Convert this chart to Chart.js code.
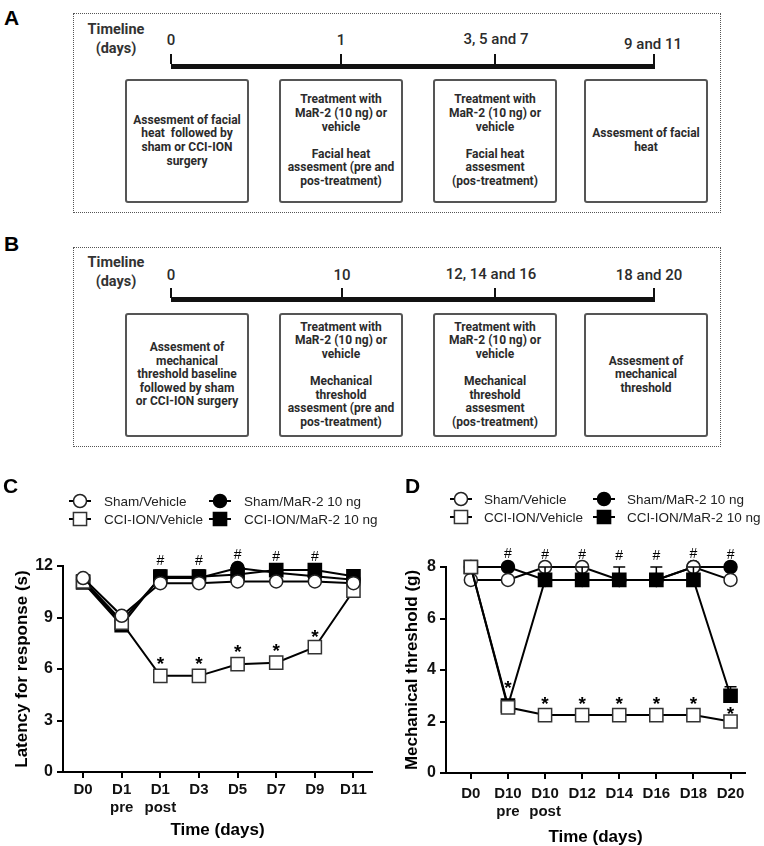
<!DOCTYPE html>
<html>
<head>
<meta charset="utf-8">
<script src="https://cdn.jsdelivr.net/npm/chart.js"></script>
<style>
  body { margin: 0; background: #fff; }
  #page { position: relative; width: 764px; height: 846px; overflow: hidden; font-family: Roboto, sans-serif; color: #2b2b2b; }
  .panel-label { position: absolute; font: bold 21px "Liberation Sans", Arial, sans-serif; color: #000; line-height: 21px; }
  .frame { position: absolute; left: 73px; width: 648px; height: 200px; box-sizing: border-box; border: 1.5px dotted #555; }
  .tl-head { position: absolute; left: 84px; width: 64px; text-align: center; font-weight: 700; font-size: 14.5px; line-height: 19px; color: #333; }
  .tl-num { position: absolute; transform: translateX(-50%); font-weight: 500; font-size: 15px; line-height: 18px; white-space: nowrap; }
  .tl-bar { position: absolute; left: 171px; width: 484px; height: 5px; background: #111; }
  .tl-tick { position: absolute; width: 1.5px; height: 10px; background: #111; }
  .step { position: absolute; width: 124px; height: 124px; box-sizing: border-box; border: 2px solid #555; border-radius: 3px;
          display: flex; align-items: center; justify-content: center; text-align: center;
          font-weight: 700; font-size: 12px; line-height: 13.6px; white-space: nowrap; }
  canvas { position: absolute; top: 470px; }
</style>
</head>
<body>
<div id="page">
  <!-- A: heat protocol -->
  <div class="panel-label" style="left:4px; top:7px;">A</div>
  <div class="frame" style="top:13px;"></div>
  <div class="tl-head" style="top:20px;">Timeline<br>(days)</div>
  <div class="tl-num" style="left:171px; top:31px;">0</div>
  <div class="tl-num" style="left:341px; top:31px;">1</div>
  <div class="tl-num" style="left:496px; top:30px;">3, 5 and 7</div>
  <div class="tl-num" style="left:653px; top:35px;">9 and 11</div>
  <div class="tl-bar" style="top:64px;"></div>
  <div class="tl-tick" style="left:170px; top:54px;"></div>
  <div class="tl-tick" style="left:340px; top:54px;"></div>
  <div class="tl-tick" style="left:494px; top:54px;"></div>
  <div class="tl-tick" style="left:653px; top:54px;"></div>
  <div class="step" style="left:125px; top:79px;">Assesment of facial<br>heat&nbsp; followed by<br>sham or CCI-ION<br>surgery</div>
  <div class="step" style="left:279px; top:79px;">Treatment with<br>MaR-2 (10 ng) or<br>vehicle<br><br>Facial heat<br>assesment (pre and<br>pos-treatment)</div>
  <div class="step" style="left:433px; top:79px;">Treatment with<br>MaR-2 (10 ng) or<br>vehicle<br><br>Facial heat<br>assesment<br>(pos-treatment)</div>
  <div class="step" style="left:584px; top:79px;">Assesment of facial<br>heat</div>

  <!-- B: mechanical protocol -->
  <div class="panel-label" style="left:4px; top:233px;">B</div>
  <div class="frame" style="top:247px;"></div>
  <div class="tl-head" style="top:253px;">Timeline<br>(days)</div>
  <div class="tl-num" style="left:171px; top:266px;">0</div>
  <div class="tl-num" style="left:342px; top:266px;">10</div>
  <div class="tl-num" style="left:491px; top:265px;">12, 14 and 16</div>
  <div class="tl-num" style="left:649px; top:266px;">18 and 20</div>
  <div class="tl-bar" style="top:297px;"></div>
  <div class="tl-tick" style="left:170px; top:288px;"></div>
  <div class="tl-tick" style="left:341px; top:288px;"></div>
  <div class="tl-tick" style="left:494px; top:288px;"></div>
  <div class="tl-tick" style="left:653px; top:288px;"></div>
  <div class="step" style="left:125px; top:313px;">Assesment of<br>mechanical<br>threshold baseline<br>followed by sham<br>or CCI-ION surgery</div>
  <div class="step" style="left:279px; top:313px;">Treatment with<br>MaR-2 (10 ng) or<br>vehicle<br><br>Mechanical<br>threshold<br>assesment (pre and<br>pos-treatment)</div>
  <div class="step" style="left:433px; top:313px;">Treatment with<br>MaR-2 (10 ng) or<br>vehicle<br><br>Mechanical<br>threshold<br>assesment<br>(pos-treatment)</div>
  <div class="step" style="left:584px; top:313px;">Assesment of<br>mechanical<br>threshold</div>

  <canvas id="chartC" width="396" height="376" style="left:0px;"></canvas>
  <canvas id="chartD" width="382" height="376" style="left:382px;"></canvas>
  <div class="panel-label" style="left:3px; top:475px;">C</div>
  <div class="panel-label" style="left:405px; top:475px;">D</div>
</div>

<script>
// Panel C: latency for response (s)
const xLabelsC = ['D0', ['D1', 'pre'], ['D1', 'post'], 'D3', 'D5', 'D7', 'D9', 'D11'];
const shamVehC = [11.3, 9.1, 11.0, 11.0, 11.1, 11.1, 11.1, 11.0];
const shamMarC = [11.2, 8.8, 11.3, 11.3, 11.88, 11.6, 11.4, 11.2];
const cciVehC = [11.1, 8.7, 5.6, 5.6, 6.28, 6.37, 7.27, 10.56];
const cciMarC = [11.05, 8.55, 11.38, 11.38, 11.5, 11.76, 11.76, 11.4];
const cciMarErrC = [0, 0, 0.38, 0.38, 0, 0, 0, 0];
const hashC = [null, null, 12.35, 12.35, 12.68, 12.6, 12.6, null];
const starC = [null, null, 6.6, 6.6, 7.3, 7.35, 8.15, null];

// Panel D: mechanical threshold (g)
const xLabelsD = ['D0', ['D10', 'pre'], ['D10', 'post'], 'D12', 'D14', 'D16', 'D18', 'D20'];
const shamVehD = [7.5, 7.5, 8.0, 8.0, 7.5, 7.5, 8.0, 7.5];
const shamMarD = [8.0, 8.0, 7.5, 7.5, 7.5, 7.5, 8.0, 8.0];
const cciVehD = [8.0, 2.55, 2.25, 2.25, 2.25, 2.25, 2.25, 2.0];
const cciMarD = [8.0, 2.62, 7.5, 7.5, 7.5, 7.5, 7.5, 3.0];
const cciMarErrD = [0, 0, 0.5, 0.5, 0.5, 0.5, 0.5, 0.35];
const hashD = [null, 8.54, 8.5, 8.5, 8.45, 8.45, 8.54, 8.5];
const starD = [null, 3.5, 2.87, 2.87, 2.87, 2.87, 2.87, 2.5];

const legendOrder = ['Sham/Vehicle', 'Sham/MaR-2 10 ng', 'CCI-ION/Vehicle', 'CCI-ION/MaR-2 10 ng'];
const FONT = '"Liberation Sans", Arial, Helvetica, sans-serif';

const markers = {
  'Sham/Vehicle': { shape: 'circle', r: 6.5, fill: '#fff', stroke: '#222' },
  'Sham/MaR-2 10 ng': { shape: 'circle', r: 6.5, fill: '#000', stroke: '#000' },
  'CCI-ION/Vehicle': { shape: 'rect', r: 9.3, fill: '#fff', stroke: '#333' },
  'CCI-ION/MaR-2 10 ng': { shape: 'rect', r: 9.3, fill: '#000', stroke: '#000' }
};

function points(values) {
  return values.map((v, i) => ({ x: i, y: v }));
}

function series(label, values, order) {
  const m = markers[label];
  return {
    label: label,
    data: points(values),
    order: order,
    borderColor: '#000',
    borderWidth: 2,
    pointStyle: m.shape,
    pointRadius: m.r,
    pointHoverRadius: m.r,
    pointBackgroundColor: m.fill,
    pointBorderColor: m.stroke,
    pointBorderWidth: 1.5,
    tension: 0,
    clip: false
  };
}

function drawMarker(ctx, label, x, y) {
  const m = markers[label];
  ctx.save();
  ctx.fillStyle = m.fill;
  ctx.strokeStyle = m.stroke;
  ctx.lineWidth = 1.5;
  ctx.beginPath();
  if (m.shape === 'rect') {
    const h = m.r * Math.SQRT1_2;
    ctx.rect(x - h, y - h, 2 * h, 2 * h);
  } else {
    ctx.arc(x, y, m.r, 0, Math.PI * 2);
  }
  ctx.fill();
  ctx.stroke();
  ctx.restore();
}

// error bars, # and * marks, and the two-column legend
const marksPlugin = {
  id: 'marks',
  afterDatasetsDraw(chart, args, opts) {
    const ctx = chart.ctx;
    const xs = chart.scales.x;
    const ys = chart.scales.y;
    ctx.save();
    ctx.strokeStyle = '#000';
    ctx.lineWidth = 1.5;
    opts.errors.forEach((bar) => {
      bar.err.forEach((e, i) => {
        if (!e) return;
        const x = xs.getPixelForValue(i);
        const y0 = ys.getPixelForValue(bar.values[i]);
        const y1 = ys.getPixelForValue(bar.values[i] + e);
        ctx.beginPath();
        ctx.moveTo(x, y0);
        ctx.lineTo(x, y1);
        ctx.moveTo(x - 6, y1);
        ctx.lineTo(x + 6, y1);
        ctx.stroke();
      });
    });
    ctx.fillStyle = '#000';
    ctx.textAlign = 'center';
    ctx.textBaseline = 'alphabetic';
    ctx.font = '14px ' + FONT;
    opts.hashes.forEach((v, i) => {
      if (v == null) return;
      ctx.fillText('#', xs.getPixelForValue(i), ys.getPixelForValue(v) + 5);
    });
    ctx.font = 'bold 19px ' + FONT;
    opts.stars.forEach((v, i) => {
      if (v == null) return;
      ctx.fillText('*', xs.getPixelForValue(i), ys.getPixelForValue(v) + 11);
    });
    ctx.restore();
  },
  afterDraw(chart, args, opts) {
    const ctx = chart.ctx;
    const lg = opts.legend;
    legendOrder.forEach((label, k) => {
      const x = lg.cols[k % 2];
      const y = lg.rows[Math.floor(k / 2)];
      ctx.save();
      ctx.strokeStyle = '#000';
      ctx.lineWidth = 2;
      ctx.beginPath();
      ctx.moveTo(x - 11, y);
      ctx.lineTo(x + 11, y);
      ctx.stroke();
      ctx.restore();
      drawMarker(ctx, label, x, y);
      ctx.save();
      ctx.fillStyle = '#222';
      ctx.font = '13.5px ' + FONT;
      ctx.textAlign = 'left';
      ctx.textBaseline = 'middle';
      ctx.fillText(label, x + lg.gap, y + 1);
      ctx.restore();
    });
  }
};

function makeChart(canvas, cfg) {
  return new Chart(canvas, {
    type: 'line',
    data: { datasets: cfg.datasets },
    plugins: [marksPlugin],
    options: {
      responsive: false,
      animation: false,
      layout: { padding: cfg.padding },
      plugins: {
        legend: { display: false },
        tooltip: { enabled: false },
        marks: cfg.marks
      },
      scales: {
        x: {
          type: 'linear',
          min: cfg.xMin,
          max: cfg.xMax,
          afterBuildTicks: (axis) => {
            axis.ticks = cfg.xLabels.map((_, i) => ({ value: i }));
          },
          afterFit: (axis) => { axis.height = cfg.xHeight; },
          ticks: {
            callback: (v) => cfg.xLabels[v],
            autoSkip: false,
            maxRotation: 0,
            padding: cfg.xPad,
            color: '#111',
            font: { family: FONT, size: 15, weight: 'bold', lineHeight: cfg.xLine }
          },
          grid: { drawOnChartArea: false, drawTicks: true, tickLength: 6, color: '#000', lineWidth: 2 },
          border: { color: '#000', width: 2 },
          title: {
            display: true,
            text: 'Time (days)',
            color: '#000',
            font: { family: FONT, size: 17, weight: 'bold', lineHeight: 1 },
            padding: { top: 0, bottom: cfg.xTitlePad }
          }
        },
        y: {
          min: 0,
          max: cfg.yMax,
          afterFit: (axis) => { axis.width = cfg.yWidth; },
          ticks: {
            stepSize: cfg.yStep,
            padding: 4,
            color: '#111',
            font: { family: FONT, size: 16, weight: 'bold' }
          },
          grid: { drawOnChartArea: false, drawTicks: true, tickLength: 6, color: '#000', lineWidth: 2 },
          border: { color: '#000', width: 2 },
          title: {
            display: true,
            text: cfg.yTitle,
            color: '#000',
            font: { family: FONT, size: 17, weight: 'bold', lineHeight: 1 },
            padding: { top: cfg.yTitlePad, bottom: 0 }
          }
        }
      }
    }
  });
}

makeChart(document.getElementById('chartC'), {
  datasets: [
    series('Sham/Vehicle', shamVehC, 0),
    series('CCI-ION/Vehicle', cciVehC, 1),
    series('Sham/MaR-2 10 ng', shamMarC, 2),
    series('CCI-ION/MaR-2 10 ng', cciMarC, 3)
  ],
  xLabels: xLabelsC,
  xMin: -0.52,
  xMax: 7.48,
  yMax: 12,
  yStep: 3,
  yTitle: 'Latency for response (s)',
  padding: { left: 0, top: 96, right: 24, bottom: 0 },
  yWidth: 63,
  xHeight: 74,
  xPad: 3,
  xLine: 1.2,
  xTitlePad: 7.5,
  yTitlePad: 13.5,
  marks: {
    errors: [{ values: cciMarC, err: cciMarErrC }],
    hashes: hashC,
    stars: starC,
    legend: { cols: [80, 220], rows: [31, 49], gap: 24 }
  }
});

makeChart(document.getElementById('chartD'), {
  datasets: [
    series('CCI-ION/Vehicle', cciVehD, 0),
    series('CCI-ION/MaR-2 10 ng', cciMarD, 1),
    series('Sham/Vehicle', shamVehD, 2),
    series('Sham/MaR-2 10 ng', shamMarD, 3)
  ],
  xLabels: xLabelsD,
  xMin: -0.67,
  xMax: 7.39,
  yMax: 8,
  yStep: 2,
  yTitle: 'Mechanical threshold (g)',
  padding: { left: 0, top: 97, right: 19, bottom: 0 },
  yWidth: 64,
  xHeight: 73,
  xPad: 5,
  xLine: 1.25,
  xTitlePad: 0.5,
  yTitlePad: 21.5,
  marks: {
    errors: [{ values: cciMarD, err: cciMarErrD }],
    hashes: hashD,
    stars: starD,
    legend: { cols: [79, 222], rows: [29, 47], gap: 23 }
  }
});
</script>
</body>
</html>
